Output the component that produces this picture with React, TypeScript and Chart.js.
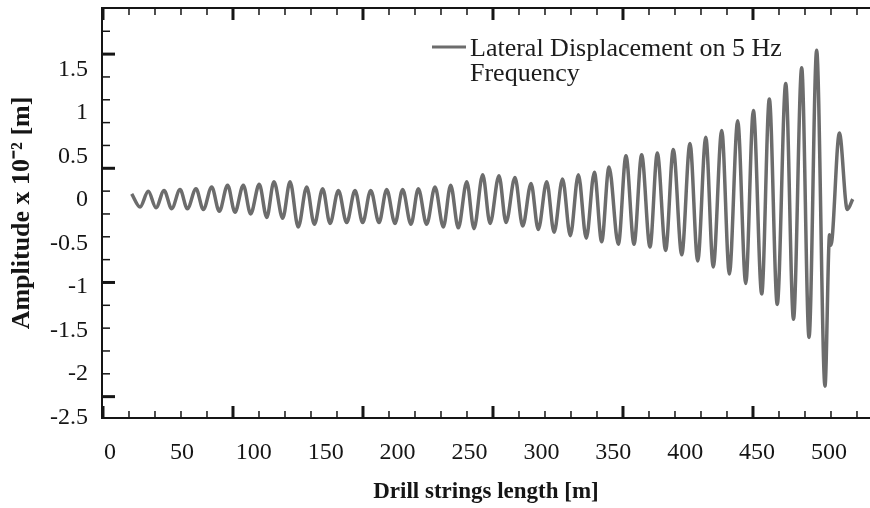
import React, { useEffect, useRef } from 'react';
import { Chart, registerables } from 'chart.js';

Chart.register(...registerables);

// Drill string length [m] at each crest / trough of the trace
const positions = [
  15.1, 20.9, 26.6, 32.0, 37.6, 42.9, 48.7, 53.8, 59.8, 64.9,
  70.7, 76.0, 81.8, 86.9, 92.7, 97.8, 103.8, 109.0, 114.0, 120.1,
  125.2, 130.9, 136.8, 142.1, 147.9, 153.0, 158.8, 164.6, 170.4, 175.7,
  181.3, 187.1, 192.4, 198.2, 203.5, 209.3, 214.4, 220.2, 226.0, 231.8,
  236.9, 242.2, 248.1, 253.1, 259.2, 264.3, 270.5, 275.4, 281.6, 287.0,
  292.8, 297.8, 303.7, 308.8, 314.7, 320.1, 325.7, 331.2, 336.8, 341.9,
  347.0, 353.5, 358.8, 364.4, 369.7, 375.5, 380.6, 386.4, 391.7, 397.6,
  403.3, 408.7, 414.3, 419.5, 425.4, 430.7, 436.5, 442.1, 447.4, 453.2,
  458.5, 464.0, 469.9, 475.3, 481.0, 486.1, 491.4, 497.2, 500.4, 501.3,
  507.2, 512.7, 516.5,
];

// Lateral amplitude x 10^-2 [m]
const amplitudes = [
  0.07, -0.08, 0.10, -0.09, 0.11, -0.10, 0.12, -0.10, 0.13, -0.11,
  0.15, -0.13, 0.17, -0.14, 0.17, -0.16, 0.18, -0.20, 0.21, -0.21,
  0.21, -0.31, 0.15, -0.28, 0.13, -0.27, 0.11, -0.26, 0.11, -0.26,
  0.11, -0.26, 0.12, -0.27, 0.12, -0.28, 0.13, -0.28, 0.15, -0.31,
  0.17, -0.32, 0.21, -0.33, 0.29, -0.27, 0.28, -0.26, 0.26, -0.30,
  0.19, -0.34, 0.21, -0.37, 0.24, -0.41, 0.29, -0.44, 0.32, -0.48,
  0.38, -0.51, 0.51, -0.51, 0.52, -0.54, 0.54, -0.58, 0.58, -0.63,
  0.65, -0.70, 0.72, -0.77, 0.80, -0.85, 0.91, -0.96, 1.03, -1.08,
  1.16, -1.20, 1.34, -1.37, 1.52, -1.58, 1.72, -2.14, -0.40, -0.52,
  0.77, -0.11, 0.01,
];

const xTickValues = [0, 50, 100, 150, 200, 250, 300, 350, 400, 450, 500];
const yTickValues = [1.5, 1, 0.5, 0, -0.5, -1, -1.5, -2, -2.5];
const yTickLabels = ['1.5', '1', '0.5', '0', '-0.5', '-1', '-1.5', '-2', '-2.5'];
const legendLines = ['Lateral Displacement on 5 Hz', 'Frequency'];
const xTitle = 'Drill strings length [m]';
const yTitle = 'Amplitude x 10\u207B\u00B2 [m]';

// frame tick marks of the original plot box (in axis units)
const frameXStart = -4.87;
const frameXStep = 18.08;
const frameXCount = 30;
const frameYStart = 2.202;
const frameYStep = 0.2625;
const frameYCount = 19;

const SERIF = "'Liberation Serif', 'Times New Roman', serif";
const LINE_COLOR = '#6c6c6c';
const INK = '#151515';

const frameTicks = {
  id: 'frameTicks',
  afterDatasetsDraw(chart: any) {
    const { ctx, chartArea: a, scales } = chart;
    const xs = scales.x;
    const ys = scales.y;
    ctx.save();
    ctx.strokeStyle = INK;
    ctx.lineWidth = 2;
    ctx.beginPath();
    ctx.moveTo(a.left, a.top);
    ctx.lineTo(a.right, a.top);
    ctx.stroke();
    for (let i = 0; i < frameXCount; i++) {
      const px = xs.getPixelForValue(frameXStart + i * frameXStep);
      const major = i % 5 === 0;
      const len = major ? 12 : 7;
      ctx.lineWidth = major ? 3 : 1.5;
      ctx.beginPath();
      ctx.moveTo(px, a.bottom);
      ctx.lineTo(px, a.bottom - len);
      ctx.moveTo(px, a.top);
      ctx.lineTo(px, a.top + len);
      ctx.stroke();
    }
    for (let i = 1; i < frameYCount - 1; i++) {
      const py = ys.getPixelForValue(frameYStart - i * frameYStep);
      const major = i % 5 === 2;
      const len = major ? 13 : 8;
      ctx.lineWidth = major ? 3 : 1.5;
      ctx.beginPath();
      ctx.moveTo(a.left, py);
      ctx.lineTo(a.left + len, py);
      ctx.stroke();
    }
    ctx.restore();
  },
};

const legendBox = {
  id: 'legendBox',
  afterDraw(chart: any) {
    const { ctx } = chart;
    const ds = chart.data.datasets[0];
    ctx.save();
    ctx.strokeStyle = ds.borderColor;
    ctx.lineWidth = 3;
    ctx.beginPath();
    ctx.moveTo(432, 47);
    ctx.lineTo(466, 47);
    ctx.stroke();
    ctx.fillStyle = '#1c1c1c';
    ctx.font = `26px ${SERIF}`;
    ctx.textBaseline = 'alphabetic';
    ctx.textAlign = 'left';
    legendLines.forEach((t, i) => ctx.fillText(t, 470, 56 + i * 25));
    ctx.restore();
  },
};

export default function App() {
  const ref = useRef<HTMLCanvasElement | null>(null);

  useEffect(() => {
    if (!ref.current) return;
    const chart = new Chart(ref.current, {
      type: 'line',
      data: {
        datasets: [
          {
            label: legendLines.join(' '),
            data: positions.map((x, i) => ({ x, y: amplitudes[i] })),
            borderColor: LINE_COLOR,
            borderWidth: 3.5,
            pointRadius: 0,
            fill: false,
            cubicInterpolationMode: 'monotone',
          },
        ],
      },
      options: {
        animation: false,
        responsive: false,
        maintainAspectRatio: false,
        layout: { padding: { top: 8, right: 0, left: 0, bottom: 0 } },
        plugins: {
          legend: { display: false },
          tooltip: { enabled: false },
        },
        scales: {
          x: {
            type: 'linear',
            min: -5.56,
            max: 528.5,
            afterFit: (s: any) => {
              s.height = 90;
              s.paddingLeft = 0;
              s.paddingRight = 0;
            },
            afterBuildTicks: (s: any) => {
              s.ticks = xTickValues.map((v) => ({ value: v }));
            },
            grid: { display: true, drawOnChartArea: false, drawTicks: false },
            border: { display: true, color: INK, width: 2 },
            ticks: {
              padding: 20,
              maxRotation: 0,
              autoSkip: false,
              color: INK,
              font: { family: SERIF, size: 24 },
              callback: (v: any) => String(v),
            },
            title: {
              display: true,
              text: xTitle,
              color: INK,
              font: { family: SERIF, size: 23, weight: 'bold' },
              padding: { top: 0, bottom: 2 },
            },
          },
          y: {
            type: 'linear',
            min: -2.506,
            max: 2.207,
            afterFit: (s: any) => {
              s.width = 102;
              s.paddingTop = 0;
              s.paddingBottom = 0;
            },
            afterBuildTicks: (s: any) => {
              s.ticks = yTickValues.map((v) => ({ value: v }));
            },
            grid: { display: true, drawOnChartArea: false, drawTicks: false },
            border: { display: true, color: INK, width: 2 },
            ticks: {
              padding: 14,
              autoSkip: false,
              color: INK,
              font: { family: SERIF, size: 24 },
              callback: (_v: any, i: number) => yTickLabels[i],
            },
            title: {
              display: true,
              text: yTitle,
              color: INK,
              font: { family: SERIF, size: 26, weight: 'bold' },
              padding: { top: 7, bottom: 0 },
            },
          },
        },
      },
      plugins: [frameTicks, legendBox],
    } as any);
    return () => chart.destroy();
  }, []);

  return (
    <div style={{ position: 'fixed', left: 0, top: 0, width: 870, height: 508, background: '#fff' }}>
      <canvas ref={ref} width={870} height={508} style={{ display: 'block', width: 870, height: 508 }} />
    </div>
  );
}
